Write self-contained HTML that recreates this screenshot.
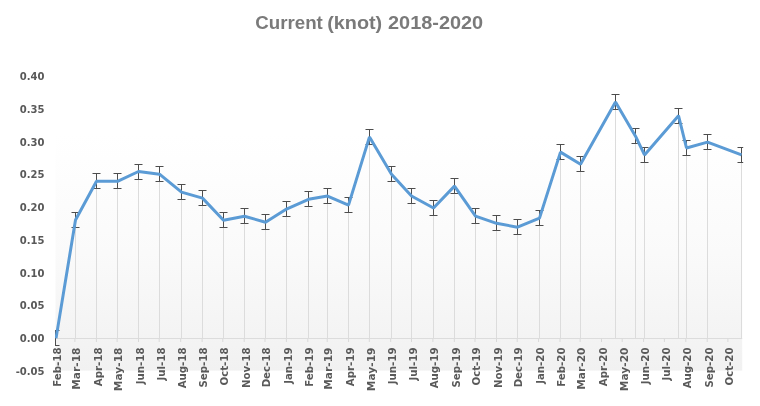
<!DOCTYPE html>
<html lang="en">
<head>
<meta charset="utf-8">
<title>Current (knot) 2018-2020</title>
<style>
html,body{margin:0;padding:0;background:#fff;}
body{width:760px;height:406px;overflow:hidden;position:relative;}
svg{display:block;position:absolute;left:0;top:0;}
.title{font-family:"Liberation Sans",sans-serif;font-weight:bold;font-size:17.5px;fill:#7a7a7a;}
.ax{font-family:"DejaVu Sans","Liberation Sans",sans-serif;font-weight:bold;font-size:10px;fill:#595959;}
</style>
</head>
<body>
<svg width="760" height="406" viewBox="0 0 760 406">
<defs>
<linearGradient id="pg" x1="0" y1="0" x2="0" y2="1">
<stop offset="0" stop-color="#ffffff"/>
<stop offset="0.2" stop-color="#ffffff"/>
<stop offset="0.6" stop-color="#fafafa"/>
<stop offset="1" stop-color="#f1f1f1"/>
</linearGradient>
<clipPath id="pc"><rect x="55.0" y="66.0" width="688.2" height="304.6"/></clipPath>
</defs>
<rect x="0" y="0" width="760" height="406" fill="#ffffff"/>

<rect x="55.5" y="76.0" width="686.7" height="294.6" fill="url(#pg)"/>
<text class="title" y="28.7"><tspan x="255.3" textLength="67.5" lengthAdjust="spacingAndGlyphs">Current</tspan> <tspan x="327.2" textLength="55" lengthAdjust="spacingAndGlyphs">(knot)</tspan> <tspan x="388.0" textLength="95.2" lengthAdjust="spacingAndGlyphs">2018-2020</tspan></text>
<g stroke="#dcdcdc" stroke-width="1" fill="none">
<line x1="75.5" y1="219.7" x2="75.5" y2="338.5"/>
<line x1="96.5" y1="181.0" x2="96.5" y2="338.5"/>
<line x1="117.5" y1="181.0" x2="117.5" y2="338.5"/>
<line x1="138.5" y1="171.2" x2="138.5" y2="338.5"/>
<line x1="159.5" y1="173.9" x2="159.5" y2="338.5"/>
<line x1="181.5" y1="191.8" x2="181.5" y2="338.5"/>
<line x1="202.5" y1="197.8" x2="202.5" y2="338.5"/>
<line x1="223.5" y1="219.9" x2="223.5" y2="338.5"/>
<line x1="244.5" y1="216.0" x2="244.5" y2="338.5"/>
<line x1="265.5" y1="221.9" x2="265.5" y2="338.5"/>
<line x1="286.5" y1="208.8" x2="286.5" y2="338.5"/>
<line x1="308.5" y1="199.0" x2="308.5" y2="338.5"/>
<line x1="327.5" y1="195.8" x2="327.5" y2="338.5"/>
<line x1="348.5" y1="204.8" x2="348.5" y2="338.5"/>
<line x1="369.5" y1="136.6" x2="369.5" y2="338.5"/>
<line x1="391.5" y1="174.0" x2="391.5" y2="338.5"/>
<line x1="411.5" y1="195.7" x2="411.5" y2="338.5"/>
<line x1="433.5" y1="207.7" x2="433.5" y2="338.5"/>
<line x1="454.5" y1="185.8" x2="454.5" y2="338.5"/>
<line x1="475.5" y1="215.8" x2="475.5" y2="338.5"/>
<line x1="496.5" y1="223.0" x2="496.5" y2="338.5"/>
<line x1="517.5" y1="226.9" x2="517.5" y2="338.5"/>
<line x1="539.5" y1="217.8" x2="539.5" y2="338.5"/>
<line x1="560.5" y1="151.8" x2="560.5" y2="338.5"/>
<line x1="580.5" y1="163.9" x2="580.5" y2="338.5"/>
<line x1="615.5" y1="101.7" x2="615.5" y2="338.5"/>
<line x1="635.5" y1="135.9" x2="635.5" y2="338.5"/>
<line x1="644.5" y1="154.6" x2="644.5" y2="338.5"/>
<line x1="678.5" y1="115.4" x2="678.5" y2="338.5"/>
<line x1="686.5" y1="147.7" x2="686.5" y2="338.5"/>
<line x1="707.5" y1="141.8" x2="707.5" y2="338.5"/>
<line x1="741.5" y1="154.6" x2="741.5" y2="338.5"/>
<line x1="55.5" y1="338.5" x2="742.2" y2="338.5"/>
</g>
<g stroke="#d9d9d9" stroke-width="1" fill="none">
<line x1="74.9" y1="338.5" x2="74.9" y2="342.0"/>
<line x1="96.4" y1="338.5" x2="96.4" y2="342.0"/>
<line x1="117.1" y1="338.5" x2="117.1" y2="342.0"/>
<line x1="138.5" y1="338.5" x2="138.5" y2="342.0"/>
<line x1="159.2" y1="338.5" x2="159.2" y2="342.0"/>
<line x1="180.7" y1="338.5" x2="180.7" y2="342.0"/>
<line x1="202.1" y1="338.5" x2="202.1" y2="342.0"/>
<line x1="222.8" y1="338.5" x2="222.8" y2="342.0"/>
<line x1="244.2" y1="338.5" x2="244.2" y2="342.0"/>
<line x1="265.0" y1="338.5" x2="265.0" y2="342.0"/>
<line x1="286.4" y1="338.5" x2="286.4" y2="342.0"/>
<line x1="307.8" y1="338.5" x2="307.8" y2="342.0"/>
<line x1="327.2" y1="338.5" x2="327.2" y2="342.0"/>
<line x1="348.6" y1="338.5" x2="348.6" y2="342.0"/>
<line x1="369.3" y1="338.5" x2="369.3" y2="342.0"/>
<line x1="390.7" y1="338.5" x2="390.7" y2="342.0"/>
<line x1="411.5" y1="338.5" x2="411.5" y2="342.0"/>
<line x1="432.9" y1="338.5" x2="432.9" y2="342.0"/>
<line x1="454.3" y1="338.5" x2="454.3" y2="342.0"/>
<line x1="475.0" y1="338.5" x2="475.0" y2="342.0"/>
<line x1="496.5" y1="338.5" x2="496.5" y2="342.0"/>
<line x1="517.2" y1="338.5" x2="517.2" y2="342.0"/>
<line x1="538.6" y1="338.5" x2="538.6" y2="342.0"/>
<line x1="560.0" y1="338.5" x2="560.0" y2="342.0"/>
<line x1="580.1" y1="338.5" x2="580.1" y2="342.0"/>
<line x1="601.5" y1="338.5" x2="601.5" y2="342.0"/>
<line x1="622.2" y1="338.5" x2="622.2" y2="342.0"/>
<line x1="643.6" y1="338.5" x2="643.6" y2="342.0"/>
<line x1="664.4" y1="338.5" x2="664.4" y2="342.0"/>
<line x1="685.8" y1="338.5" x2="685.8" y2="342.0"/>
<line x1="707.2" y1="338.5" x2="707.2" y2="342.0"/>
<line x1="727.9" y1="338.5" x2="727.9" y2="342.0"/>
</g>
<g clip-path="url(#pc)">
<g stroke="#4d4d4d" stroke-width="1" fill="none">
<path d="M55.5,330.5 V345.5 M51.5,330.5 H59.5 M51.5,345.5 H59.5"/>
<path d="M75.5,212.5 V227.5 M71.5,212.5 H79.5 M71.5,227.5 H79.5"/>
<path d="M96.5,173.5 V188.5 M92.5,173.5 H100.5 M92.5,188.5 H100.5"/>
<path d="M117.5,173.5 V188.5 M113.5,173.5 H121.5 M113.5,188.5 H121.5"/>
<path d="M138.5,164.5 V179.5 M134.5,164.5 H142.5 M134.5,179.5 H142.5"/>
<path d="M159.5,166.5 V181.5 M155.5,166.5 H163.5 M155.5,181.5 H163.5"/>
<path d="M181.5,184.5 V199.5 M177.5,184.5 H185.5 M177.5,199.5 H185.5"/>
<path d="M202.5,190.5 V205.5 M198.5,190.5 H206.5 M198.5,205.5 H206.5"/>
<path d="M223.5,212.5 V227.5 M219.5,212.5 H227.5 M219.5,227.5 H227.5"/>
<path d="M244.5,208.5 V223.5 M240.5,208.5 H248.5 M240.5,223.5 H248.5"/>
<path d="M265.5,214.5 V229.5 M261.5,214.5 H269.5 M261.5,229.5 H269.5"/>
<path d="M286.5,201.5 V216.5 M282.5,201.5 H290.5 M282.5,216.5 H290.5"/>
<path d="M308.5,191.5 V206.5 M304.5,191.5 H312.5 M304.5,206.5 H312.5"/>
<path d="M327.5,188.5 V203.5 M323.5,188.5 H331.5 M323.5,203.5 H331.5"/>
<path d="M348.5,197.5 V212.5 M344.5,197.5 H352.5 M344.5,212.5 H352.5"/>
<path d="M369.5,129.5 V144.5 M365.5,129.5 H373.5 M365.5,144.5 H373.5"/>
<path d="M391.5,166.5 V181.5 M387.5,166.5 H395.5 M387.5,181.5 H395.5"/>
<path d="M411.5,188.5 V203.5 M407.5,188.5 H415.5 M407.5,203.5 H415.5"/>
<path d="M433.5,200.5 V215.5 M429.5,200.5 H437.5 M429.5,215.5 H437.5"/>
<path d="M454.5,178.5 V193.5 M450.5,178.5 H458.5 M450.5,193.5 H458.5"/>
<path d="M475.5,208.5 V223.5 M471.5,208.5 H479.5 M471.5,223.5 H479.5"/>
<path d="M496.5,215.5 V230.5 M492.5,215.5 H500.5 M492.5,230.5 H500.5"/>
<path d="M517.5,219.5 V234.5 M513.5,219.5 H521.5 M513.5,234.5 H521.5"/>
<path d="M539.5,210.5 V225.5 M535.5,210.5 H543.5 M535.5,225.5 H543.5"/>
<path d="M560.5,144.5 V159.5 M556.5,144.5 H564.5 M556.5,159.5 H564.5"/>
<path d="M580.5,156.5 V171.5 M576.5,156.5 H584.5 M576.5,171.5 H584.5"/>
<path d="M615.5,94.5 V109.5 M611.5,94.5 H619.5 M611.5,109.5 H619.5"/>
<path d="M635.5,128.5 V143.5 M631.5,128.5 H639.5 M631.5,143.5 H639.5"/>
<path d="M644.5,147.5 V162.5 M640.5,147.5 H648.5 M640.5,162.5 H648.5"/>
<path d="M678.5,108.5 V123.5 M674.5,108.5 H682.5 M674.5,123.5 H682.5"/>
<path d="M686.5,140.5 V155.5 M682.5,140.5 H690.5 M682.5,155.5 H690.5"/>
<path d="M707.5,134.5 V149.5 M703.5,134.5 H711.5 M703.5,149.5 H711.5"/>
<path d="M741.5,147.5 V162.5 M737.5,147.5 H745.5 M737.5,162.5 H745.5"/>
</g>
<path d="M56.0,338.3 L75.5,220.0 L96.5,181.3 L117.5,181.3 L138.5,171.5 L159.5,174.2 L181.5,192.1 L202.5,198.1 L223.5,220.2 L244.5,216.3 L265.5,222.2 L286.5,209.1 L308.5,199.3 L327.5,196.1 L348.5,205.1 L369.5,136.9 L391.5,174.3 L411.5,196.0 L433.5,208.0 L454.5,186.1 L475.5,216.1 L496.5,223.3 L517.5,227.2 L539.5,218.1 L560.5,152.1 L580.5,164.2 L615.5,102.0 L635.5,136.2 L644.5,154.9 L678.5,115.7 L686.5,148.0 L707.5,142.1 L741.5,154.9" fill="none" stroke="#5b9bd5" stroke-width="3.0" stroke-linejoin="bevel" stroke-linecap="butt"/>
</g>
<g class="ax" text-anchor="end">
<text x="44.5" y="80.20">0.40</text>
<text x="44.5" y="112.95">0.35</text>
<text x="44.5" y="145.70">0.30</text>
<text x="44.5" y="178.45">0.25</text>
<text x="44.5" y="211.20">0.20</text>
<text x="44.5" y="243.95">0.15</text>
<text x="44.5" y="276.70">0.10</text>
<text x="44.5" y="309.45">0.05</text>
<text x="44.5" y="342.20">0.00</text>
<text x="44.5" y="374.95">-0.05</text>
</g>
<g class="ax" text-anchor="end">
<text transform="translate(60.90,347.5) rotate(-90) scale(1.02,1)">Feb-18</text>
<text transform="translate(80.25,347.5) rotate(-90) scale(1.065,1)">Mar-18</text>
<text transform="translate(101.67,347.5) rotate(-90) scale(1.02,1)">Apr-18</text>
<text transform="translate(122.40,347.5) rotate(-90) scale(1.065,1)">May-18</text>
<text transform="translate(143.82,347.5) rotate(-90) scale(1.02,1)">Jun-18</text>
<text transform="translate(164.55,347.5) rotate(-90) scale(1.02,1)">Jul-18</text>
<text transform="translate(185.97,347.5) rotate(-90) scale(1.02,1)">Aug-18</text>
<text transform="translate(207.39,347.5) rotate(-90) scale(1.02,1)">Sep-18</text>
<text transform="translate(228.12,347.5) rotate(-90) scale(1.02,1)">Oct-18</text>
<text transform="translate(249.54,347.5) rotate(-90) scale(1.02,1)">Nov-18</text>
<text transform="translate(270.27,347.5) rotate(-90) scale(1.02,1)">Dec-18</text>
<text transform="translate(291.69,347.5) rotate(-90) scale(1.02,1)">Jan-19</text>
<text transform="translate(313.11,347.5) rotate(-90) scale(1.02,1)">Feb-19</text>
<text transform="translate(332.46,347.5) rotate(-90) scale(1.065,1)">Mar-19</text>
<text transform="translate(353.88,347.5) rotate(-90) scale(1.02,1)">Apr-19</text>
<text transform="translate(374.61,347.5) rotate(-90) scale(1.065,1)">May-19</text>
<text transform="translate(396.03,347.5) rotate(-90) scale(1.02,1)">Jun-19</text>
<text transform="translate(416.76,347.5) rotate(-90) scale(1.02,1)">Jul-19</text>
<text transform="translate(438.19,347.5) rotate(-90) scale(1.02,1)">Aug-19</text>
<text transform="translate(459.61,347.5) rotate(-90) scale(1.02,1)">Sep-19</text>
<text transform="translate(480.34,347.5) rotate(-90) scale(1.02,1)">Oct-19</text>
<text transform="translate(501.76,347.5) rotate(-90) scale(1.02,1)">Nov-19</text>
<text transform="translate(522.49,347.5) rotate(-90) scale(1.02,1)">Dec-19</text>
<text transform="translate(543.91,347.5) rotate(-90) scale(1.02,1)">Jan-20</text>
<text transform="translate(565.33,347.5) rotate(-90) scale(1.02,1)">Feb-20</text>
<text transform="translate(585.37,347.5) rotate(-90) scale(1.065,1)">Mar-20</text>
<text transform="translate(606.79,347.5) rotate(-90) scale(1.02,1)">Apr-20</text>
<text transform="translate(627.52,347.5) rotate(-90) scale(1.065,1)">May-20</text>
<text transform="translate(648.94,347.5) rotate(-90) scale(1.02,1)">Jun-20</text>
<text transform="translate(669.67,347.5) rotate(-90) scale(1.02,1)">Jul-20</text>
<text transform="translate(691.09,347.5) rotate(-90) scale(1.02,1)">Aug-20</text>
<text transform="translate(712.51,347.5) rotate(-90) scale(1.02,1)">Sep-20</text>
<text transform="translate(733.24,347.5) rotate(-90) scale(1.02,1)">Oct-20</text>
</g>
</svg>
</body>
</html>
